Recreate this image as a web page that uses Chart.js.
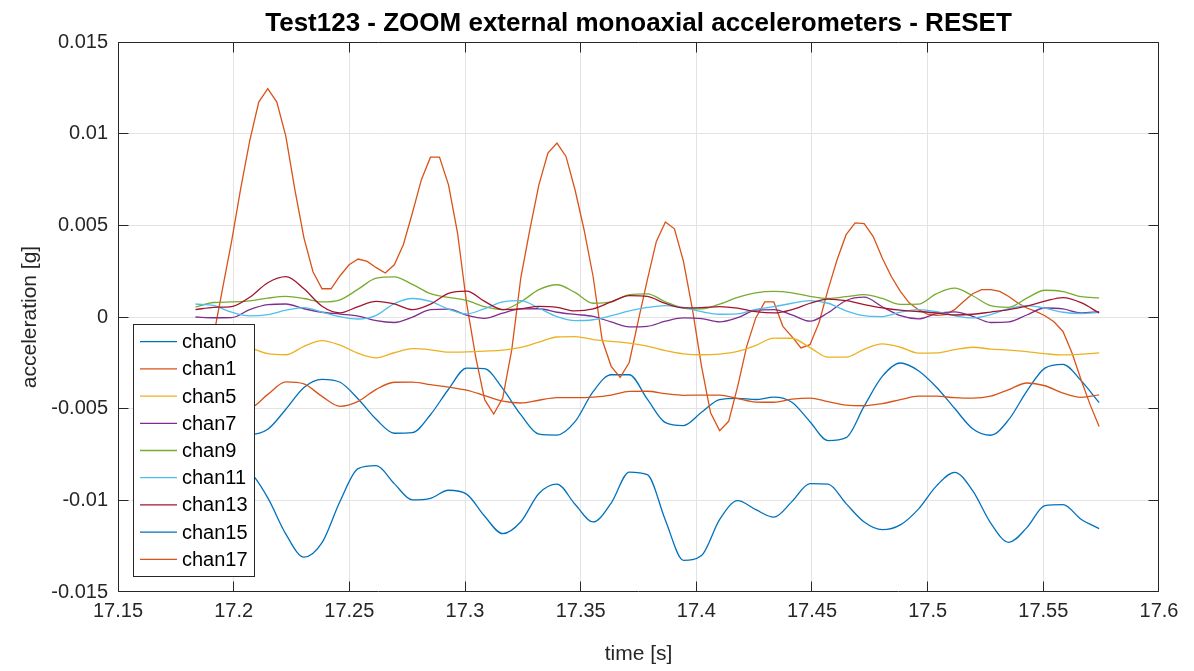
<!DOCTYPE html>
<html>
<head>
<meta charset="utf-8">
<script src="https://cdn.jsdelivr.net/npm/chart.js@4.4.0/dist/chart.umd.min.js"></script>
<style>
html, body { margin: 0; padding: 0; background: #fff; }
</style>
</head>
<body>
<canvas id="accChart" width="1194" height="671"></canvas>
<script>
// sampling of the zoomed window
const fs = 256;
const tStart = 17.1835;
const tFast = Array.from({ length: 101 }, (_, k) => tStart + k / fs);
const tSlow = tFast.filter((_, k) => k % 2 === 0);

const chartTitle = 'Test123 - ZOOM external monoaxial accelerometers - RESET';
const channelNames = ['chan0', 'chan1', 'chan5', 'chan7', 'chan9', 'chan11', 'chan13', 'chan15', 'chan17'];
const channelColors = ['#0072BD', '#D95319', '#EDB120', '#7E2F8E', '#77AC30', '#4DBEEE', '#A2142F', '#0072BD', '#D95319'];

const xTicks = { min: 17.15, max: 17.6, step: 0.05 };
const yTicks = { min: -0.015, max: 0.015, step: 0.005 };

// values in g
const chan0 = [
  -0.00420, -0.00520, -0.00600, -0.00640, -0.00612, -0.00503, -0.00384, -0.00340, -0.00356, -0.00447,
  -0.00558, -0.00634, -0.00631, -0.00533, -0.00394, -0.00279, -0.00282, -0.00391, -0.00533, -0.00639,
  -0.00644, -0.00571, -0.00407, -0.00315, -0.00315, -0.00448, -0.00576, -0.00592, -0.00520, -0.00451,
  -0.00444, -0.00450, -0.00437, -0.00465, -0.00571, -0.00674, -0.00658, -0.00486, -0.00324, -0.00251,
  -0.00293, -0.00383, -0.00498, -0.00609, -0.00645, -0.00560, -0.00404, -0.00279, -0.00258, -0.00347,
  -0.00467
];
const chan1 = [
  -0.00451, -0.00340, -0.00105, 0.00156, 0.00414, 0.00700, 0.00961, 0.01172, 0.01245, 0.01172,
  0.00985, 0.00694, 0.00432, 0.00247, 0.00154, 0.00154, 0.00225, 0.00285, 0.00316, 0.00303,
  0.00269, 0.00240, 0.00285, 0.00394, 0.00567, 0.00749, 0.00872, 0.00872, 0.00721, 0.00458,
  0.00076, -0.00216, -0.00451, -0.00529, -0.00442, -0.00178, 0.00214, 0.00476, 0.00721, 0.00894,
  0.00949, 0.00876, 0.00694, 0.00476, 0.00221, -0.00124, -0.00269, -0.00329, -0.00248, -0.00020,
  0.00203, 0.00412, 0.00518, 0.00481, 0.00303, 0.00040, -0.00269, -0.00523, -0.00620, -0.00569,
  -0.00378, -0.00160, -0.00005, 0.00082, 0.00082, -0.00051, -0.00107, -0.00169, -0.00151, -0.00031,
  0.00149, 0.00312, 0.00449, 0.00513, 0.00509, 0.00439, 0.00322, 0.00221, 0.00140, 0.00076,
  0.00040, 0.00016, 0.00009, 0.00013, 0.00040, 0.00085, 0.00127, 0.00149, 0.00149, 0.00140,
  0.00112, 0.00076, 0.00049, 0.00031, 0.00007, -0.00026, -0.00079, -0.00196, -0.00342, -0.00478,
  -0.00597
];
const chan5 = [
  -0.00135, -0.00140, -0.00155, -0.00168, -0.00200, -0.00206, -0.00160, -0.00129, -0.00154, -0.00198,
  -0.00223, -0.00195, -0.00173, -0.00179, -0.00192, -0.00190, -0.00186, -0.00181, -0.00166, -0.00137,
  -0.00109, -0.00107, -0.00123, -0.00133, -0.00143, -0.00159, -0.00184, -0.00201, -0.00206, -0.00202,
  -0.00188, -0.00155, -0.00115, -0.00116, -0.00167, -0.00219, -0.00219, -0.00176, -0.00147, -0.00165,
  -0.00197, -0.00196, -0.00178, -0.00165, -0.00175, -0.00181, -0.00189, -0.00200, -0.00207, -0.00203,
  -0.00196
];
const chan7 = [
  0.00000, -0.00004, -0.00003, 0.00040, 0.00067, 0.00071, 0.00045, 0.00026, 0.00016, 0.00005,
  -0.00020, -0.00030, -0.00001, 0.00040, 0.00043, 0.00010, -0.00007, 0.00021, 0.00044, 0.00045,
  0.00026, 0.00014, 0.00003, -0.00027, -0.00054, -0.00051, -0.00023, -0.00005, -0.00009, -0.00027,
  -0.00004, 0.00037, 0.00040, 0.00011, -0.00023, 0.00023, 0.00090, 0.00108, 0.00056, 0.00007,
  -0.00010, 0.00019, 0.00028, 0.00004, -0.00030, -0.00027, 0.00011, 0.00049, 0.00044, 0.00023,
  0.00029
];
const chan9 = [
  0.00054, 0.00079, 0.00082, 0.00088, 0.00103, 0.00112, 0.00101, 0.00082, 0.00094, 0.00152,
  0.00212, 0.00219, 0.00178, 0.00127, 0.00107, 0.00091, 0.00056, 0.00040, 0.00083, 0.00149,
  0.00176, 0.00134, 0.00075, 0.00082, 0.00122, 0.00126, 0.00083, 0.00049, 0.00044, 0.00070,
  0.00107, 0.00132, 0.00140, 0.00132, 0.00113, 0.00101, 0.00111, 0.00122, 0.00101, 0.00069,
  0.00070, 0.00127, 0.00157, 0.00116, 0.00062, 0.00053, 0.00103, 0.00146, 0.00139, 0.00111,
  0.00104
];
const chan11 = [
  0.00071, 0.00063, 0.00026, 0.00006, 0.00013, 0.00037, 0.00051, 0.00027, 0.00002, -0.00011,
  0.00009, 0.00073, 0.00101, 0.00085, 0.00043, 0.00017, 0.00046, 0.00082, 0.00089, 0.00048,
  0.00002, -0.00020, -0.00015, 0.00007, 0.00033, 0.00052, 0.00062, 0.00052, 0.00029, 0.00015,
  0.00017, 0.00042, 0.00056, 0.00075, 0.00089, 0.00075, 0.00034, 0.00007, 0.00002, 0.00026,
  0.00040, 0.00029, 0.00007, -0.00005, 0.00013, 0.00046, 0.00062, 0.00048, 0.00026, 0.00019,
  0.00025
];
const chan13 = [
  0.00040, 0.00053, 0.00057, 0.00108, 0.00187, 0.00220, 0.00154, 0.00059, 0.00023, 0.00057,
  0.00085, 0.00071, 0.00040, 0.00070, 0.00129, 0.00141, 0.00085, 0.00040, 0.00044, 0.00058,
  0.00053, 0.00033, 0.00044, 0.00082, 0.00117, 0.00112, 0.00074, 0.00050, 0.00051, 0.00057,
  0.00048, 0.00029, 0.00022, 0.00040, 0.00075, 0.00098, 0.00089, 0.00068, 0.00050, 0.00037,
  0.00030, 0.00022, 0.00011, 0.00015, 0.00027, 0.00040, 0.00059, 0.00086, 0.00106, 0.00078,
  0.00022
];
const chan15 = [
  -0.00860, -0.00830, -0.00820, -0.00846, -0.00987, -0.01184, -0.01310, -0.01231, -0.01005, -0.00827,
  -0.00811, -0.00909, -0.00998, -0.00989, -0.00945, -0.00966, -0.01087, -0.01182, -0.01117, -0.00963,
  -0.00912, -0.01021, -0.01118, -0.01015, -0.00846, -0.00860, -0.01108, -0.01327, -0.01301, -0.01105,
  -0.01002, -0.01051, -0.01092, -0.01007, -0.00909, -0.00912, -0.01018, -0.01118, -0.01160, -0.01134,
  -0.01048, -0.00921, -0.00847, -0.00947, -0.01124, -0.01229, -0.01149, -0.01029, -0.01023, -0.01103,
  -0.01154
];
const chan17 = [
  -0.00424, -0.00462, -0.00489, -0.00495, -0.00422, -0.00354, -0.00365, -0.00433, -0.00487, -0.00460,
  -0.00395, -0.00356, -0.00355, -0.00369, -0.00382, -0.00399, -0.00429, -0.00459, -0.00469, -0.00454,
  -0.00440, -0.00440, -0.00437, -0.00426, -0.00406, -0.00405, -0.00418, -0.00427, -0.00426, -0.00426,
  -0.00445, -0.00464, -0.00465, -0.00448, -0.00442, -0.00462, -0.00481, -0.00484, -0.00472, -0.00451,
  -0.00432, -0.00432, -0.00440, -0.00443, -0.00432, -0.00396, -0.00360, -0.00375, -0.00415, -0.00438,
  -0.00425
];

const channelValues = [chan0, chan1, chan5, chan7, chan9, chan11, chan13, chan15, chan17];

Chart.defaults.font.family = '"Liberation Sans", Arial, Helvetica, sans-serif';
Chart.defaults.color = '#262626';

const datasets = channelValues.map((vals, i) => {
  const t = vals.length === tFast.length ? tFast : tSlow;
  return {
    label: channelNames[i],
    data: vals.map((v, k) => ({ x: t[k], y: v })),
    borderColor: channelColors[i],
    backgroundColor: channelColors[i],
    borderWidth: 1.3,
    pointRadius: 0,
    fill: false,
    cubicInterpolationMode: vals.length === tFast.length ? 'default' : 'monotone',
    tension: 0,
    order: -i
  };
});

// no grid line on the box edges, the frame is drawn there
const innerGrid = (lo, hi) => c =>
  (c.tick && (Math.abs(c.tick.value - lo) < 1e-9 || Math.abs(c.tick.value - hi) < 1e-9)) ? 'rgba(0,0,0,0)' : '#e3e3e3';

// title over the axes, box, inward tick marks and legend like the original figure
const matlabAxes = {
  id: 'matlabAxes',
  afterDatasetsDraw(chart) {
    const { ctx, chartArea: a, scales } = chart;
    ctx.save();
    ctx.strokeStyle = '#262626';
    ctx.lineWidth = 1;
    const L = Math.round(a.left) + 0.5, R = Math.round(a.right) - 0.5;
    const T = Math.round(a.top) + 0.5, B = Math.round(a.bottom) - 0.5;
    const clamp = (v, lo, hi) => Math.min(hi, Math.max(lo, v));
    ctx.beginPath();
    ctx.rect(L, T, R - L, B - T);
    scales.x.ticks.forEach(tk => {
      const px = clamp(Math.floor(scales.x.getPixelForValue(tk.value)) + 0.5, L, R);
      ctx.moveTo(px, B); ctx.lineTo(px, B - 10);
      ctx.moveTo(px, T); ctx.lineTo(px, T + 10);
    });
    scales.y.ticks.forEach(tk => {
      const py = clamp(Math.floor(scales.y.getPixelForValue(tk.value)) + 0.5, T, B);
      ctx.moveTo(L, py); ctx.lineTo(L + 10, py);
      ctx.moveTo(R, py); ctx.lineTo(R - 10, py);
    });
    ctx.stroke();

    // title
    ctx.fillStyle = '#000';
    ctx.font = 'bold 26px "Liberation Sans", Arial, sans-serif';
    ctx.textAlign = 'center';
    ctx.textBaseline = 'alphabetic';
    ctx.fillText(chartTitle, (a.left + a.right) / 2, 31);

    // legend
    const bx = 133.5, by = 324.5, bw = 121, bh = 252;
    ctx.fillStyle = '#fff';
    ctx.fillRect(bx, by, bw, bh);
    ctx.strokeRect(bx, by, bw, bh);
    ctx.font = '20px "Liberation Sans", Arial, sans-serif';
    ctx.textBaseline = 'middle';
    ctx.textAlign = 'left';
    chart.data.datasets.forEach((ds, i) => {
      const y = 341.7 + i * 27.2;
      ctx.strokeStyle = ds.borderColor;
      ctx.lineWidth = 1.3;
      ctx.beginPath();
      ctx.moveTo(140, y); ctx.lineTo(177, y);
      ctx.stroke();
      ctx.fillStyle = '#000';
      ctx.fillText(ds.label, 182, y + 1);
    });
    ctx.restore();
  }
};

const ctx = document.getElementById('accChart').getContext('2d');
const accChart = new Chart(ctx, {
  type: 'line',
  data: { datasets },
  options: {
    responsive: false,
    animation: false,
    layout: { padding: { left: 0, right: 35, top: 42, bottom: 0 } },
    scales: {
      x: {
        type: 'linear',
        min: xTicks.min,
        max: xTicks.max,
        afterFit: s => { s.height = 79; },
        ticks: {
          stepSize: xTicks.step,
          autoSkip: false,
          maxRotation: 0,
          padding: 7,
          font: { size: 20 },
          color: '#262626',
          callback: v => String(+v.toFixed(2))
        },
        grid: { color: innerGrid(xTicks.min, xTicks.max), drawTicks: false },
        border: { display: false },
        title: { display: true, text: 'time [s]', font: { size: 21 }, color: '#262626', padding: { top: 0, bottom: 4 } }
      },
      y: {
        type: 'linear',
        min: yTicks.min,
        max: yTicks.max,
        afterFit: s => { s.width = 118; },
        ticks: {
          stepSize: yTicks.step,
          padding: 10,
          font: { size: 20 },
          color: '#262626',
          callback: v => String(+v.toFixed(3))
        },
        grid: { color: innerGrid(yTicks.min, yTicks.max), drawTicks: false },
        border: { display: false },
        title: { display: true, text: 'acceleration [g]', font: { size: 21 }, color: '#262626', padding: { top: 18, bottom: 0 } }
      }
    },
    plugins: {
      legend: { display: false },
      tooltip: { enabled: false },
      title: { display: false }
    }
  },
  plugins: [matlabAxes]
});
</script>
</body>
</html>
